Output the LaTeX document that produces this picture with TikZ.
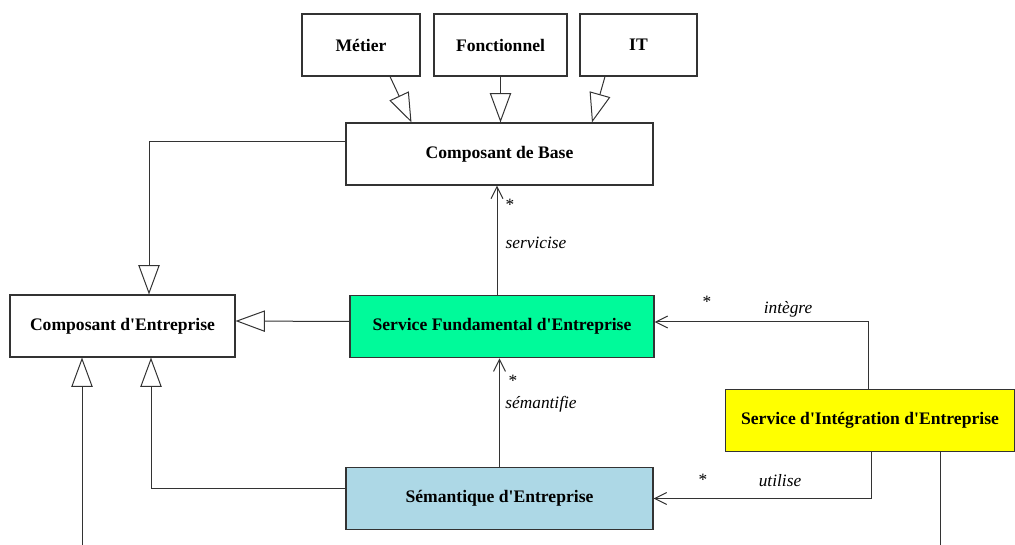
\documentclass[tikz,border=0pt]{standalone}
\usepackage{fontspec}
\setmainfont{Liberation Serif}
\usetikzlibrary{arrows.meta,calc,positioning}
\definecolor{ink}{HTML}{333333}
\definecolor{mint}{HTML}{00FA9A}
\definecolor{sky}{HTML}{ADD8E6}
\definecolor{lemon}{HTML}{FFFF00}
\newcommand{\apos}{\textquotesingle}

\begin{document}
\begin{tikzpicture}[x=0.75pt,y=-0.75pt,
  cls/.style={draw=ink,line width=0.8pt,fill=white,minimum height=46.5pt,font=\fontsize{13.2}{15}\selectfont\bfseries,align=center},
  gen/.style={draw=ink,line width=0.75pt,-{Triangle[open,length=22pt,width=16pt,fill=white]}},
  assoc/.style={draw=ink,line width=0.75pt,-{Straight Barb[length=9pt,width=9pt]}},
  lbl/.style={font=\fontsize{13}{15}\selectfont\itshape,inner sep=0pt},
  mult/.style={font=\fontsize{13}{15}\selectfont,inner sep=0pt}]
\useasboundingbox (0,0) rectangle (1015,545);
\node[cls,minimum width=88.5pt] (metier) at (361,45) {Métier};
\node[cls,minimum width=99.75pt] (fonct) at (500.5,45) {Fonctionnel};
\node[cls,minimum width=87.75pt] (it) at (638.5,45) {IT};
\node[cls,minimum width=230.25pt] (base) at (499.5,154) {Composant de Base};
\node[cls,minimum width=168.75pt] (entr) at (122.5,326) {Composant d\apos Entreprise};
\node[cls,fill=mint,minimum width=228pt,minimum height=47pt] (sfe) at (502,326.5) {Service Fundamental d\apos Entreprise};
\node[cls,fill=sky,minimum width=230.25pt,minimum height=47pt] (sem) at (499.5,498.5) {Sémantique d\apos Entreprise};
\node[cls,fill=lemon,minimum width=216.75pt,minimum height=47pt] (sie) at (870,420.5) {Service d\apos Intégration d\apos Entreprise};
\coordinate (foot) at (82,545);
\coordinate (tail) at ($(sie.south)+(70,0)$);
\draw[gen] ($(metier.south)+(29,0)$) -- ($(base.north)+(-88,0)$);
\draw[gen] (fonct.south) -- (fonct.south |- base.north);
\draw[gen] ($(it.south)+(-33.5,0)$) -- ($(base.north)+(92.5,0)$);
\draw[gen] ($(base.west)+(0,-12)$) -| ($(entr.north)+(26.5,0)$);
\draw[gen] ($(sfe.west)+(0,-5)$) -- ($(entr.east)+(0,-5)$);
\draw[gen] ($(sem.west)+(0,-9.5)$) -| ($(entr.south)+(28.5,0)$);
\draw[gen] (foot) -- (foot |- entr.south);
\draw[assoc] ($(sfe.north)+(-5,0)$) -- ($(base.south)+(-2.5,0)$);
\draw[assoc] (sem.north) -- (sem.north |- sfe.south);
\draw[assoc] ($(sie.north)+(-2,0)$) |- ($(sfe.east)+(0,-4.5)$);
\draw[assoc] ($(sie.south)+(1,0)$) |- (sem.east);
\draw[draw=ink,line width=0.75pt] (tail |- sie.south) -- (tail |- foot);
\node[mult] at (510,205) {*};
\node[lbl] at (536,243) {servicise};
\node[mult] at (513,381) {*};
\node[lbl] at (541,404) {sémantifie};
\node[mult] at (707,302) {*};
\node[lbl] at (788,309) {intègre};
\node[mult] at (703,480) {*};
\node[lbl] at (780,481) {utilise};
\end{tikzpicture}
\end{document}
